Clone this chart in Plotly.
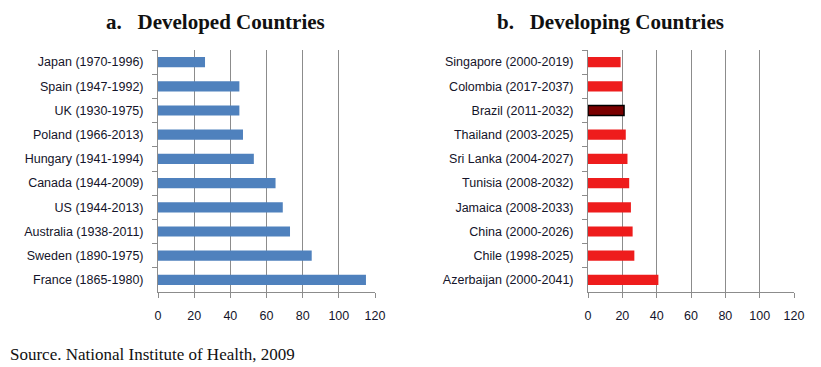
import plotly.graph_objects as go

dev_countries = ["Japan (1970-1996)", "Spain (1947-1992)", "UK (1930-1975)", "Poland (1966-2013)",
                 "Hungary (1941-1994)", "Canada (1944-2009)", "US (1944-2013)", "Australia (1938-2011)",
                 "Sweden (1890-1975)", "France (1865-1980)"]
dev_values = [26, 45, 45, 47, 53, 65, 69, 73, 85, 115]

dvg_countries = ["Singapore (2000-2019)", "Colombia (2017-2037)", "Brazil (2011-2032)", "Thailand (2003-2025)",
                 "Sri Lanka (2004-2027)", "Tunisia (2008-2032)", "Jamaica (2008-2033)", "China (2000-2026)",
                 "Chile (1998-2025)", "Azerbaijan (2000-2041)"]
dvg_values = [19, 20, 21, 22, 23, 24, 25, 26, 27, 41]

x_ticks = [0, 20, 40, 60, 80, 100, 120]

BLUE = "#4F81BD"
RED = "#EE1C1C"
DARK = "#7A0000"

dvg_colors = [DARK if c.startswith("Brazil") else RED for c in dvg_countries]
dvg_lines = ["#000000" if c.startswith("Brazil") else RED for c in dvg_countries]
dvg_lw = [1.5 if c.startswith("Brazil") else 0 for c in dvg_countries]

W, H = 821, 367
OFF = 8  # the page places the figure 8px from the window's top-left corner


def px(x):
    return (x - OFF) / W


def py(y):
    return 1 - (y - OFF) / H


fig = go.Figure()
fig.add_trace(go.Bar(y=dev_countries, x=dev_values, orientation="h", marker=dict(color=BLUE, line=dict(width=0)),
                     width=0.42, xaxis="x", yaxis="y", showlegend=False))
fig.add_trace(go.Bar(y=dvg_countries, x=dvg_values, orientation="h",
                     marker=dict(color=dvg_colors, line=dict(color=dvg_lines, width=dvg_lw)),
                     width=0.42, xaxis="x2", yaxis="y2", showlegend=False))

tickfont = dict(family="Liberation Sans, Arial, sans-serif", size=12.5, color="#14142a")
xcommon = dict(range=[0, 120], tickvals=x_ticks, showgrid=True, gridcolor="#8c8c8c", gridwidth=1,
               showline=True, linecolor="#8c8c8c", linewidth=1, ticks="outside", ticklen=5,
               tickcolor="#8c8c8c", tickfont=tickfont, zeroline=False, fixedrange=True,
               automargin=False, ticklabelstandoff=7)
ycommon = dict(autorange="reversed", showline=True, linecolor="#8c8c8c", linewidth=1, ticks="outside",
               ticklen=5, tickcolor="#8c8c8c", tickson="boundaries", tickfont=tickfont,
               showgrid=False, ticklabelstandoff=11, fixedrange=True, automargin=False)

title_font = dict(family="Liberation Serif, serif", size=21, color="#111111")
fig.update_layout(
    template="none",
    width=W, height=H,
    margin=dict(l=0, r=0, t=0, b=0),
    paper_bgcolor="white", plot_bgcolor="white",
    xaxis=dict(domain=[px(158), px(375)], anchor="y", **xcommon),
    yaxis=dict(domain=[py(292), py(50)], anchor="x", **ycommon),
    xaxis2=dict(domain=[px(588), px(794)], anchor="y2", **xcommon),
    yaxis2=dict(domain=[py(292), py(50)], anchor="x2", **ycommon),
    annotations=[
        dict(text="<b>a.   Developed Countries</b>", x=px(216), y=py(22), xref="paper", yref="paper",
             xanchor="center", yanchor="middle", showarrow=False, font=title_font),
        dict(text="<b>b.   Developing Countries</b>", x=px(610), y=py(22), xref="paper", yref="paper",
             xanchor="center", yanchor="middle", showarrow=False, font=title_font),
        dict(text="Source. National Institute of Health, 2009", x=px(8), y=py(354), xref="paper",
             yref="paper", xanchor="left", yanchor="middle", showarrow=False,
             font=dict(family="Liberation Serif, serif", size=17, color="#111111")),
    ],
)

fig.write_html("out.html")
